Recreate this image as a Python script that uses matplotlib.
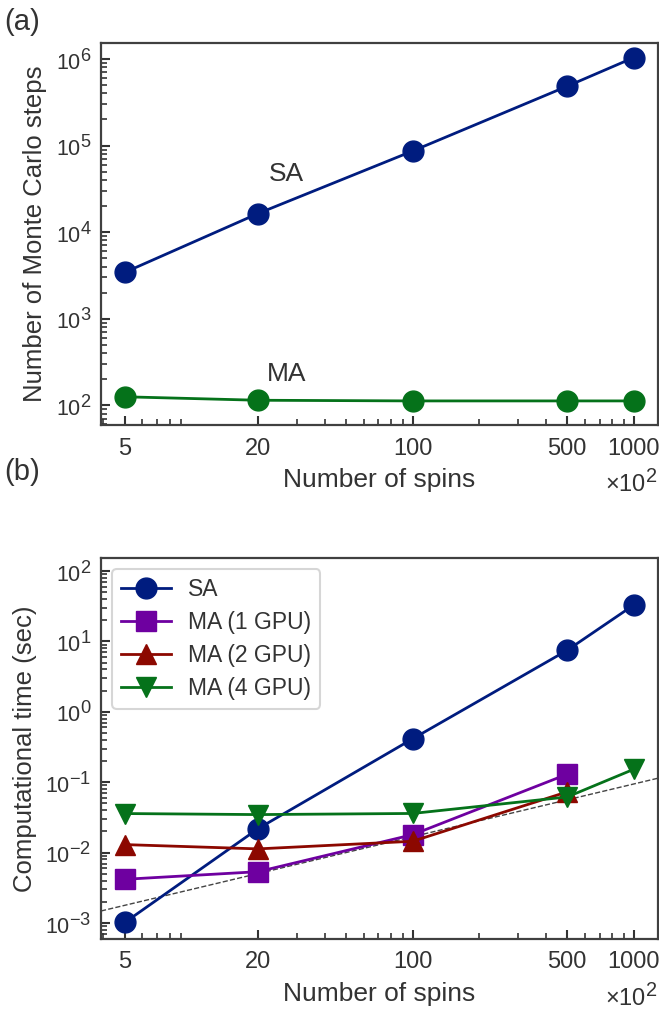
import matplotlib

matplotlib.use("Agg")
import matplotlib.pyplot as plt
import matplotlib._mathtext as mathtext_internal
from matplotlib.ticker import FixedLocator, LogLocator, NullFormatter, LogFormatterMathtext
import numpy as np

# superscripts in the original are nearly full size
mathtext_internal.SHRINK_FACTOR = 0.85

plt.rcParams["font.family"] = ["Liberation Sans", "DejaVu Sans"]
plt.rcParams["mathtext.default"] = "regular"
plt.rcParams["text.color"] = "#333333"
plt.rcParams["axes.labelcolor"] = "#333333"
plt.rcParams["xtick.color"] = "#333333"
plt.rcParams["ytick.color"] = "#333333"

# number of spins (x 10^2)
spins = [5, 20, 100, 500, 1000]
xticks = [5, 20, 100, 500, 1000]

# (a) Monte Carlo steps
steps_sa = [3430, 16400, 86500, 485000, 1040000]
steps_ma = [125, 114, 112, 112, 112]

# (b) computational time (sec)
time_sa = [0.00102, 0.0219, 0.414, 7.5, 33]
time_ma1 = [0.00418, 0.00536, 0.018, 0.13]
time_ma2 = [0.013, 0.0113, 0.0145, 0.073]
time_ma4 = [0.0359, 0.0347, 0.036, 0.0618, 0.153]
# dashed guide: t = fit_a * N ** fit_b
fit_a = 5.35e-4
fit_b = 0.749

c_sa = "#001c7f"
c_ma = "#05721a"
c_ma1 = "#6e00a0"
c_ma2 = "#8c0800"
c_ma4 = "#05721a"


def style_axis(ax, ylim):
    ax.set_xscale("log")
    ax.set_yscale("log")
    ax.set_xlim(3.9, 1284)
    ax.set_ylim(*ylim)
    ax.xaxis.set_major_locator(FixedLocator(xticks))
    ax.set_xticklabels([str(t) for t in xticks])
    ax.xaxis.set_minor_locator(LogLocator(base=10, subs=np.arange(2, 10), numticks=20))
    ax.xaxis.set_minor_formatter(NullFormatter())
    ax.yaxis.set_major_locator(LogLocator(base=10, numticks=20))
    ax.yaxis.set_major_formatter(LogFormatterMathtext())
    ax.yaxis.set_minor_locator(LogLocator(base=10, subs=np.arange(2, 10), numticks=20))
    ax.yaxis.set_minor_formatter(NullFormatter())
    ax.tick_params(which="major", direction="in", length=6.5, width=1.5, pad=9,
                   top=False, right=False)
    ax.tick_params(axis="x", which="major", labelsize=17)
    ax.tick_params(axis="y", which="major", labelsize=15.5, pad=7)
    ax.tick_params(which="minor", direction="in", length=4, width=1.2, top=False, right=False)
    for s in ax.spines.values():
        s.set_color("#404040")
        s.set_linewidth(1.6)
    ax.set_xlabel("Number of spins", fontsize=19, labelpad=6)
    ax.text(1.0, -0.152, r"$\times10^2$", transform=ax.transAxes, ha="right", va="center",
            fontsize=17, color="#333333")


fig = plt.figure(figsize=(6.59, 10.10), dpi=100)
ax1 = fig.add_axes([0.1533, 0.5792, 0.845, 0.3782])
ax2 = fig.add_axes([0.1533, 0.0703, 0.845, 0.3772])

# panel (a)
ax1.plot(spins, steps_sa, "-o", color=c_sa, lw=2, ms=15)
ax1.plot(spins, steps_ma, "-o", color=c_ma, lw=2, ms=15)
style_axis(ax1, (59, 1.53e6))
ax1.set_ylabel("Number of Monte Carlo steps", fontsize=18.5, labelpad=6)
ax1.text(27, 4.7e4, "SA", fontsize=19, ha="center", va="center")
ax1.text(27, 2.3e2, "MA", fontsize=19, ha="center", va="center")
fig.text(0.006, 0.978, "(a)", fontsize=21, va="center")

# panel (b)
xfit = np.logspace(np.log10(3.9), np.log10(1284), 50)
ax2.plot(xfit, fit_a * xfit ** fit_b, "--", color="#444444", lw=1)
ax2.plot(spins, time_sa, "-o", color=c_sa, lw=2, ms=15, label="SA")
ax2.plot(spins[:4], time_ma1, "-s", color=c_ma1, lw=2, ms=14, label="MA (1 GPU)")
ax2.plot(spins[:4], time_ma2, "-^", color=c_ma2, lw=2, ms=15, label="MA (2 GPU)")
ax2.plot(spins, time_ma4, "-v", color=c_ma4, lw=2, ms=15, label="MA (4 GPU)")
style_axis(ax2, (5.93e-4, 153))
ax2.set_ylabel("Computational time (sec)", fontsize=18.5, labelpad=6)
leg = ax2.legend(loc="upper left", fontsize=16.5, frameon=True, fancybox=True,
                 borderpad=0.4, labelspacing=0.43, handlelength=2.17, handletextpad=0.74,
                 borderaxespad=0.48)
leg.get_frame().set_edgecolor("#cccccc")
leg.get_frame().set_linewidth(1.5)
fig.text(0.006, 0.533, "(b)", fontsize=21, va="center")

plt.savefig("out.png", dpi=100)
plt.close()
